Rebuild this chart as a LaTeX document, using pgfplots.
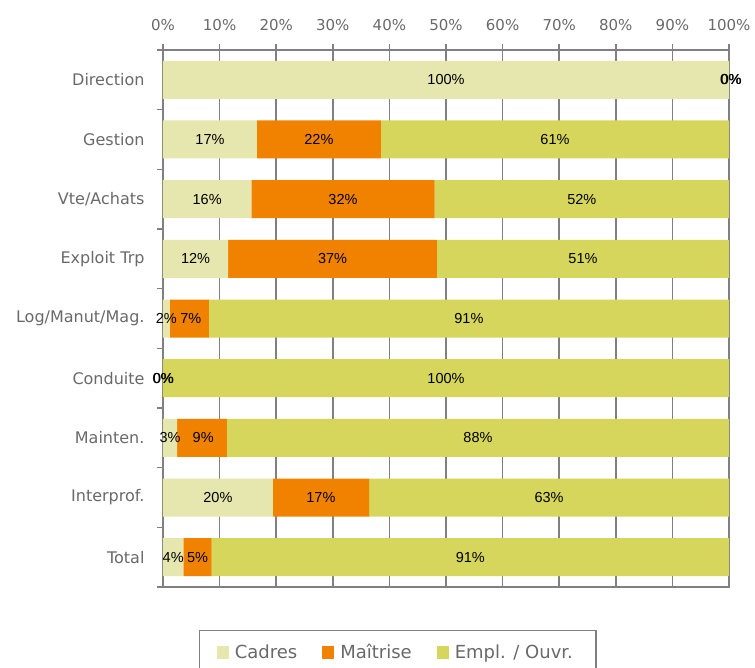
\documentclass[border=0pt]{standalone}
\usepackage{fontspec}
\setmainfont{DejaVu Sans}
\newfontfamily\arialf{Liberation Sans}
\usepackage{pgfplots}
\pgfplotsset{compat=1.18}
\usetikzlibrary{calc}
\definecolor{cCad}{RGB}{230,230,175}
\definecolor{cMai}{RGB}{240,130,0}
\definecolor{cEmp}{RGB}{214,214,92}
\definecolor{cGrid}{RGB}{128,128,128}
\definecolor{cTxt}{RGB}{105,105,105}
\newcommand{\lbl}{\arialf\fontsize{14.5}{16}\selectfont}
\begin{document}
\begin{tikzpicture}
\begin{axis}[
  name=ax,
  xbar stacked,
  scale only axis, width=566pt, height=537pt,
  xmin=0, xmax=100, ymin=-0.5, ymax=8.5, y dir=reverse,
  bar width=38pt,
  axis line style={cGrid, line width=1.6pt},
  xtick={0,10,...,100},
  xticklabels={0\%,10\%,20\%,30\%,40\%,50\%,60\%,70\%,80\%,90\%,100\%},
  xtick pos=right, xticklabel pos=right,
  tick align=outside,
  major tick length=6pt, minor tick length=6pt,
  tick style={cGrid, line width=1.5pt},
  major y tick style={draw=none},
  xmajorgrids, grid style={cGrid, line width=1.5pt},
  ytick={0,...,8},
  yticklabels={Direction,Gestion,Vte/Achats,Exploit Trp,Log/Manut/Mag.,Conduite,Mainten.,Interprof.,Total},
  minor ytick={-0.5,0.5,...,8.5},
  ytick pos=left,
  xticklabel style={font=\fontsize{15}{18}\selectfont, text=cTxt, yshift=10pt},
  yticklabel style={font=\fontsize{16}{19}\selectfont, text=cTxt, xshift=-9pt},
  legend style={at={(0.415,-0.08)}, anchor=north, draw=cGrid, line width=1.2pt,
    font=\fontsize{18}{21}\selectfont, text=cTxt, legend columns=3,
    inner xsep=17pt, inner ysep=12pt,
    /tikz/every even column/.append style={column sep=19pt}},
  legend image code/.code={\fill[#1] (0pt,-6pt) rectangle (12pt,7pt);},
  legend style={nodes={inner xsep=6pt}},
]
\addplot[fill=cCad, draw=none] coordinates {
  (100,0) (16.6,1) (15.6,2) (11.5,3) (1.2,4) (0,5) (2.5,6) (19.4,7) (3.6,8)};
\addlegendentry{Cadres}
\addplot[fill=cMai, draw=none] coordinates {
  (0,0) (21.9,1) (32.4,2) (36.9,3) (6.9,4) (0,5) (8.8,6) (17.0,7) (5.0,8)};
\addlegendentry{Maîtrise}
\addplot[fill=cEmp, draw=none] coordinates {
  (0,0) (61.5,1) (52.0,2) (51.6,3) (91.9,4) (100,5) (88.7,6) (63.6,7) (91.4,8)};
\addlegendentry{Empl. / Ouvr.}
\end{axis}
% data labels, in an overlaid axis so that they sit above the bars
\begin{axis}[
  at={(ax.south west)}, anchor=south west,
  scale only axis, width=566pt, height=537pt,
  xmin=0, xmax=100, ymin=-0.5, ymax=8.5, y dir=reverse,
  hide axis, clip=false,
]
\addplot[draw=none, mark=none, nodes near coords, point meta=explicit symbolic,
  every node near coord/.append style={anchor=center, font=\lbl, text=black}]
  coordinates {
  (50,0) [100\%] (100.3,0) [0\%] (100.4,0) [0\%]
  (8.3,1) [17\%] (27.55,1) [22\%] (69.25,1) [61\%]
  (7.8,2) [16\%] (31.8,2) [32\%] (74.0,2) [52\%]
  (5.75,3) [12\%] (29.95,3) [37\%] (74.2,3) [51\%]
  (0.6,4) [2\%] (4.9,4) [7\%] (54.05,4) [91\%]
  (0,5) [0\%] (0.1,5) [0\%] (50,5) [100\%]
  (1.25,6) [3\%] (7.1,6) [9\%] (55.65,6) [88\%]
  (9.7,7) [20\%] (27.9,7) [17\%] (68.2,7) [63\%]
  (1.8,8) [4\%] (6.1,8) [5\%] (54.3,8) [91\%]
  };
\end{axis}
\pgfresetboundingbox
\path ($(ax.south west)+(-163pt,-81pt)$) rectangle ($(ax.north east)+(26pt,50pt)$);
\end{tikzpicture}
\end{document}
